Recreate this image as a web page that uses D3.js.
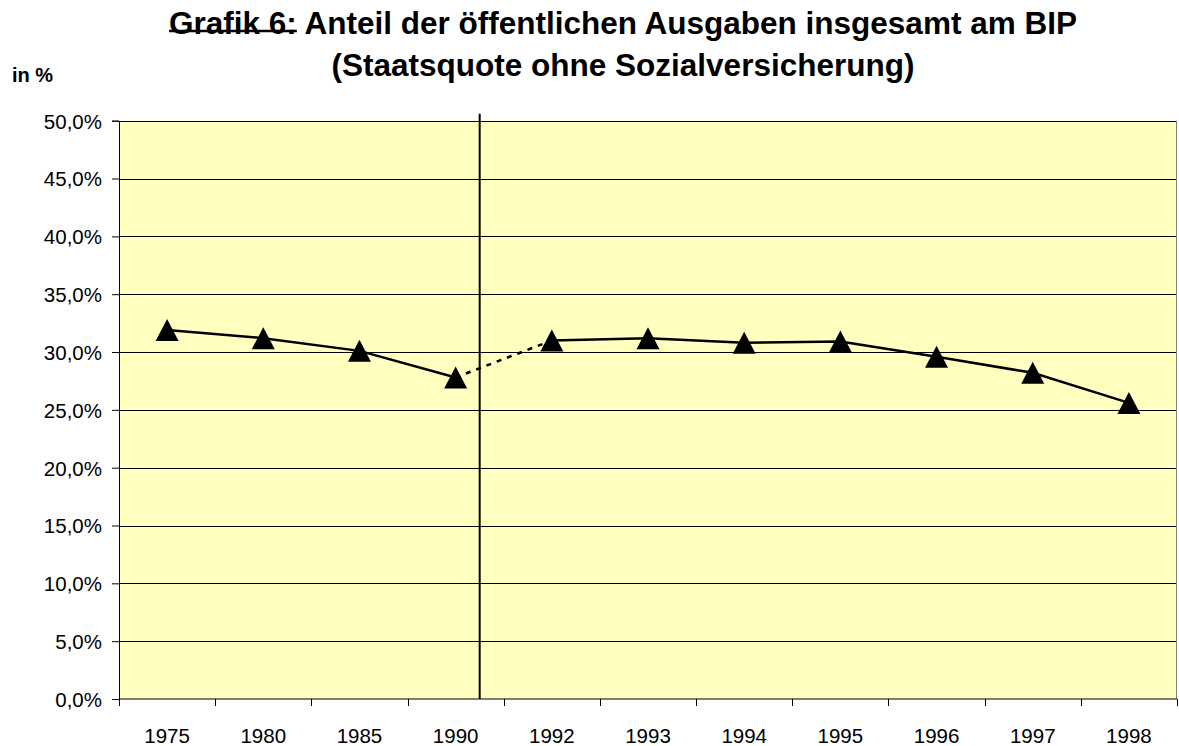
<!DOCTYPE html>
<html>
<head>
<meta charset="utf-8">
<script src="https://cdn.jsdelivr.net/npm/d3@7"></script>
<style>
  body { margin: 0; background: #fff; }
  text { font-family: "Liberation Sans", Arial, sans-serif; }
</style>
</head>
<body>
<div class="graph"></div>
<script>
// data
const years = ["1975", "1980", "1985", "1990", "1992", "1993", "1994", "1995", "1996", "1997", "1998"];
const quote = [31.9, 31.2, 30.1, 27.8, 31.0, 31.2, 30.8, 30.9, 29.6, 28.2, 25.6];
const yTicks = [0, 5, 10, 15, 20, 25, 30, 35, 40, 45, 50];
const titleLines = ["Anteil der öffentlichen Ausgaben insgesamt am BIP", "(Staatsquote ohne Sozialversicherung)"];

const width = 1179;
const height = 746;
const plotLeft = 119, plotRight = 1177, plotTop = 120.7, plotBottom = 699;

const de = d3.formatLocale({decimal: ",", thousands: ".", grouping: [3], currency: ["", " €"]});
const fmt = de.format(".1f");

let svg = d3.select(".graph")
  .append("svg")
  .attr("width", width)
  .attr("height", height);

let x = d3.scaleBand().domain(years).range([plotLeft, plotRight]).padding(0);
let y = d3.scaleLinear().domain([0, 50]).range([plotBottom, plotTop]);

// plot area
svg.append("rect")
  .attr("x", plotLeft).attr("y", plotTop)
  .attr("width", plotRight - plotLeft).attr("height", plotBottom - plotTop)
  .attr("fill", "#ffffc0");

// horizontal gridlines
svg.append("g").selectAll("line")
  .data(yTicks.filter(d => d > 0))
  .enter().append("line")
  .attr("x1", plotLeft).attr("x2", plotRight)
  .attr("y1", d => Math.round(y(d)) + 0.5)
  .attr("y2", d => Math.round(y(d)) + 0.5)
  .attr("stroke", "#000")
  .attr("stroke-width", 1);

// right edge of plot
svg.append("line")
  .attr("x1", plotRight - 0.5).attr("x2", plotRight - 0.5)
  .attr("y1", plotTop).attr("y2", plotBottom)
  .attr("stroke", "#808080");

// y axis
let yAxis = d3.axisLeft(y)
  .tickValues(yTicks)
  .tickSize(7)
  .tickPadding(10)
  .tickFormat(d => fmt(d) + "%");

let gy = svg.append("g")
  .attr("transform", "translate(" + plotLeft + ",0)")
  .call(yAxis);
gy.selectAll("text")
  .attr("font-size", "20.5px")
  .attr("fill", "#000")
  .attr("dy", "0.36em");
gy.selectAll("line").attr("stroke", "#000");
gy.select(".domain").attr("stroke", "#000");

// x axis, ticks sit on the category boundaries
let gx = svg.append("g")
  .attr("transform", "translate(0," + plotBottom + ")");
gx.append("line")
  .attr("x1", plotLeft).attr("x2", plotRight)
  .attr("stroke", "#000");
gx.selectAll(".tick")
  .data(years.concat(["end"]))
  .enter().append("line")
  .attr("x1", (d, i) => Math.round(plotLeft + i * x.step()) + 0.5)
  .attr("x2", (d, i) => Math.round(plotLeft + i * x.step()) + 0.5)
  .attr("y1", 0).attr("y2", 7)
  .attr("stroke", "#000");
gx.selectAll(".lab")
  .data(years)
  .enter().append("text")
  .attr("x", d => x(d) + x.bandwidth() / 2)
  .attr("y", 37)
  .attr("dy", "0.36em")
  .attr("text-anchor", "middle")
  .attr("font-size", "20.5px")
  .text(d => d);

// separator between 1990 and 1992
let sepX = x("1990") + x.bandwidth() * 0.75;
svg.append("line")
  .attr("x1", sepX).attr("x2", sepX)
  .attr("y1", plotTop - 7).attr("y2", plotBottom)
  .attr("stroke", "#000")
  .attr("stroke-width", 2);

// the series
let pts = years.map((d, i) => [x(d) + x.bandwidth() / 2, y(quote[i])]);
let line = d3.line();

svg.append("path")
  .attr("d", line(pts.slice(0, 4)))
  .attr("fill", "none").attr("stroke", "#000").attr("stroke-width", 2.5);
svg.append("path")
  .attr("d", line(pts.slice(3, 5)))
  .attr("fill", "none").attr("stroke", "#000").attr("stroke-width", 2.5)
  .attr("stroke-dasharray", "5,6");
svg.append("path")
  .attr("d", line(pts.slice(4)))
  .attr("fill", "none").attr("stroke", "#000").attr("stroke-width", 2.5);

// triangle markers, centred on the point like excel does
const tw = 11.5, th = 11;
svg.append("g").selectAll("path")
  .data(pts)
  .enter().append("path")
  .attr("transform", d => "translate(" + d[0] + "," + d[1] + ")")
  .attr("d", "M0," + (-th) + "L" + tw + "," + th + "L" + (-tw) + "," + th + "Z")
  .attr("fill", "#000");

// titles
let title = svg.append("text")
  .attr("x", 623).attr("y", 34)
  .attr("text-anchor", "middle")
  .attr("font-size", "31.5px")
  .attr("font-weight", "bold");
title.append("tspan").attr("class", "grafik").text("Grafik 6:");
title.append("tspan").text(" " + titleLines[0]);

svg.append("text")
  .attr("x", 623).attr("y", 76)
  .attr("text-anchor", "middle")
  .attr("font-size", "31.5px")
  .attr("font-weight", "bold")
  .text(titleLines[1]);

// crossed-out "Grafik 6:"
let tb = title.node().getBBox();
let grafikW = title.select(".grafik").node().getComputedTextLength();
svg.append("line")
  .attr("x1", tb.x).attr("x2", tb.x + grafikW)
  .attr("y1", 31).attr("y2", 31)
  .attr("stroke", "#000")
  .attr("stroke-width", 2.5);

svg.append("text")
  .attr("x", 12).attr("y", 82)
  .attr("font-size", "20px")
  .attr("font-weight", "bold")
  .text("in %");
</script>
</body>
</html>
